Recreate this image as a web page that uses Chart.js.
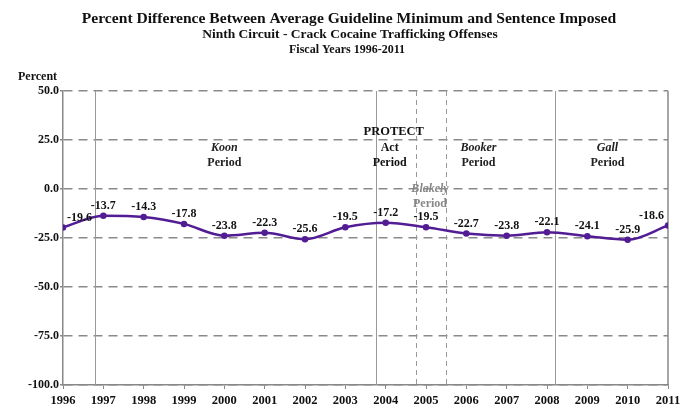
<!DOCTYPE html>
<html>
<head>
<meta charset="utf-8">
<script src="https://cdn.jsdelivr.net/npm/chart.js@4/dist/chart.umd.min.js"></script>
<style>
  body { margin: 0; background: #fff; }
  #wrap { width: 698px; height: 414px; }
</style>
</head>
<body>
<div id="wrap"><canvas id="myChart" width="698" height="414"></canvas></div>
<script>
const years = [1996, 1997, 1998, 1999, 2000, 2001, 2002, 2003, 2004, 2005, 2006, 2007, 2008, 2009, 2010, 2011];
const pctDiff = [-19.6, -13.7, -14.3, -17.8, -23.8, -22.3, -25.6, -19.5, -17.2, -19.5, -22.7, -23.8, -22.1, -24.1, -25.9, -18.6];
const yTicks = [50, 25, 0, -25, -50, -75, -100];

// period boundaries (fiscal-year positions)
const solidBounds = [1996.8, 2003.75, 2008.2];
const dashedBounds = [2004.75, 2005.5];
const periodNotes = [
  { x: 2000.0, lines: [["Koon", true], ["Period", false]], top: 148, color: "#222" },
  { x: 2004.2, lines: [["PROTECT", false]], top: 132, color: "#111" },
  { x: 2004.1, lines: [["Act", false], ["Period", false]], top: 148, color: "#111" },
  { x: 2005.1, lines: [["Blakely", true], ["Period", false]], top: 189, color: "#888" },
  { x: 2006.3, lines: [["Booker", true], ["Period", false]], top: 148, color: "#222" },
  { x: 2009.5, lines: [["Gall", true], ["Period", false]], top: 148, color: "#222" }
];

const serif = "'Liberation Serif', 'DejaVu Serif', serif";

const decorPlugin = {
  id: "decor",
  beforeDatasetsDraw(chart) {
    const { ctx, chartArea: a, scales: { x } } = chart;
    ctx.save();
    ctx.strokeStyle = "#999";
    ctx.lineWidth = 1;
    solidBounds.forEach(v => {
      const px = Math.round(x.getPixelForValue(v)) + 0.5;
      ctx.beginPath(); ctx.moveTo(px, a.top); ctx.lineTo(px, a.bottom); ctx.stroke();
    });
    ctx.setLineDash([5, 4]);
    dashedBounds.forEach(v => {
      const px = Math.round(x.getPixelForValue(v)) + 0.5;
      ctx.beginPath(); ctx.moveTo(px, a.top); ctx.lineTo(px, a.bottom); ctx.stroke();
    });
    ctx.setLineDash([]);
    // right border
    ctx.strokeStyle = "#888";
    ctx.lineWidth = 1.5;
    ctx.beginPath(); ctx.moveTo(a.right, a.top); ctx.lineTo(a.right, a.bottom); ctx.stroke();

    // period labels
    ctx.textAlign = "center";
    ctx.textBaseline = "middle";
    periodNotes.forEach(n => {
      const px = x.getPixelForValue(n.x);
      ctx.fillStyle = n.color;
      n.lines.forEach((l, i) => {
        const big = l[0] === "PROTECT";
        ctx.font = (l[1] ? "italic " : "") + "bold " + (big ? 12.5 : 12) + "px " + serif;
        ctx.fillText(l[0], px, n.top + i * 15);
      });
    });
    ctx.restore();
  },
  afterDatasetsDraw(chart) {
    const { ctx, chartArea: a } = chart;
    const meta = chart.getDatasetMeta(0);
    ctx.save();
    ctx.font = "bold 12px " + serif;
    ctx.fillStyle = "#111";
    ctx.textBaseline = "bottom";
    ctx.textAlign = "center";
    meta.data.forEach((pt, i) => {
      const txt = pctDiff[i].toFixed(1);
      const w = ctx.measureText(txt).width;
      let cx = pt.x;
      if (cx - w / 2 < a.left + 2) cx = a.left + 2 + w / 2 + 2;
      if (cx + w / 2 > a.right - 2) cx = a.right - w / 2 - 4;
      ctx.fillText(txt, cx, pt.y - 4);
    });
    // titles
    ctx.fillStyle = "#111";
    ctx.textAlign = "center";
    ctx.textBaseline = "middle";
    ctx.font = "bold 15.6px " + serif;
    ctx.fillText("Percent Difference Between Average Guideline Minimum and Sentence Imposed", 349, 19);
    ctx.font = "bold 13.5px " + serif;
    ctx.fillText("Ninth Circuit - Crack Cocaine Trafficking Offenses", 350, 35);
    ctx.font = "bold 12px " + serif;
    ctx.fillText("Fiscal Years 1996-2011", 347, 50);
    ctx.textAlign = "left";
    ctx.font = "bold 12px " + serif;
    ctx.fillText("Percent", 18, 77);
    ctx.restore();
  }
};

new Chart(document.getElementById("myChart"), {
  type: "line",
  plugins: [decorPlugin],
  data: {
    datasets: [{
      data: years.map((y, i) => ({ x: y, y: pctDiff[i] })),
      borderColor: "#521c94",
      backgroundColor: "#521c94",
      borderWidth: 2.5,
      pointRadius: 2,
      pointHoverRadius: 2,
      tension: 0.4,
      cubicInterpolationMode: "monotone"
    }]
  },
  options: {
    responsive: false,
    animation: false,
    layout: { padding: { top: 91, left: 8, right: 30, bottom: 4 } },
    plugins: { legend: { display: false }, tooltip: { enabled: false } },
    scales: {
      x: {
        type: "linear",
        min: 1996,
        max: 2011,
        afterFit(s) { s.height = 25; },
        afterBuildTicks(s) { s.ticks = years.map(v => ({ value: v })); },
        ticks: {
          color: "#111",
          font: { family: serif, size: 12.5, weight: "bold" },
          padding: 4,
          maxRotation: 0,
          autoSkip: false,
          callback: v => String(v)
        },
        grid: { drawOnChartArea: false, drawTicks: true, tickLength: 4, color: "#888", lineWidth: 1 },
        border: { color: "#888", width: 1.5 }
      },
      y: {
        min: -100,
        max: 50,
        afterFit(s) { s.width = 55; },
        afterBuildTicks(s) { s.ticks = yTicks.map(v => ({ value: v })); },
        ticks: {
          color: "#111",
          font: { family: serif, size: 12, weight: "bold" },
          padding: 1,
          callback: v => v.toFixed(1)
        },
        grid: {
          color: "#8a8a8a",
          lineWidth: 1.5,
          tickLength: 3,
          drawTicks: true
        },
        border: { color: "#888", width: 1.5, dash: [9, 6] }
      }
    }
  }
});
</script>
</body>
</html>
